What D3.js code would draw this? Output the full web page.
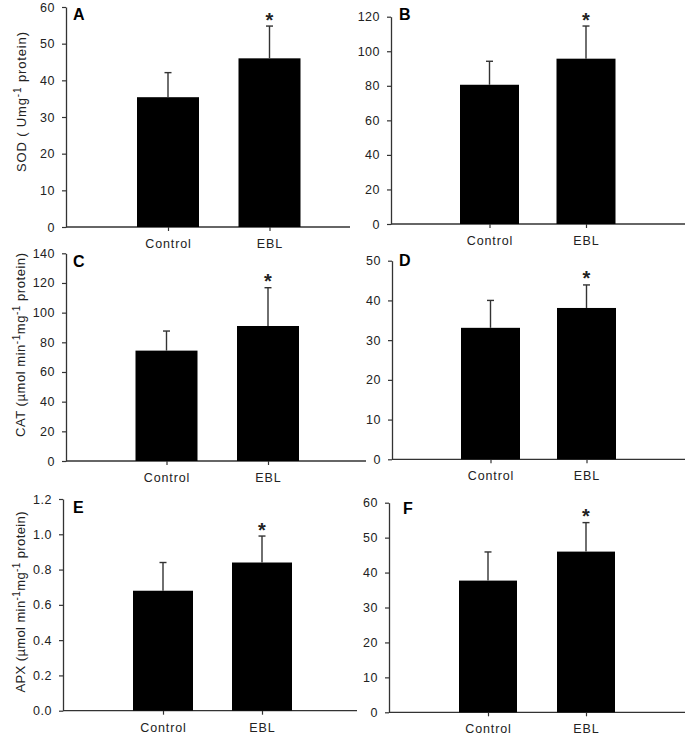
<!DOCTYPE html>
<html><head><meta charset="utf-8">
<script src="https://cdn.jsdelivr.net/npm/d3@7"></script>
<style>
body{margin:0;background:#fff}
text{font-family:Arial,"Liberation Sans",sans-serif}
</style>
</head><body>
<svg id="chart" width="685" height="737"></svg>
<script>
// ---------- data ----------
const categories = ["Control", "EBL"];
const panelLetters = ["A", "B", "C", "D", "E", "F"];

const meanA = [35.4, 46.0], errA = [6.7, 8.8];
const meanB = [80.6, 95.7], errB = [13.6, 18.9];
const meanC = [74.4, 91.0], errC = [13.2, 25.8];
const meanD = [33.1, 38.1], errD = [6.9, 5.8];
const meanE = [0.68, 0.84], errE = [0.16, 0.15];
const meanF = [37.7, 46.0], errF = [8.2, 8.3];

const sigA = ["", "*"], sigB = ["", "*"], sigC = ["", "*"];
const sigD = ["", "*"], sigE = ["", "*"], sigF = ["", "*"];

const ticksA = [0, 10, 20, 30, 40, 50, 60];
const ticksB = [0, 20, 40, 60, 80, 100, 120];
const ticksC = [0, 20, 40, 60, 80, 100, 120, 140];
const ticksD = [0, 10, 20, 30, 40, 50];
const ticksE = [0.0, 0.2, 0.4, 0.6, 0.8, 1.0, 1.2];
const ticksF = [0, 10, 20, 30, 40, 50, 60];

// y-axis titles as [text, isSuperscript] parts
const yLabelA = [["SOD ( Umg", false], ["-1", true], [" protein)", false]];
const yLabelC = [["CAT (\u00B5mol min", false], ["-1", true], ["mg", false], ["-1", true], [" protein)", false]];
const yLabelE = [["APX (\u00B5mol min", false], ["-1", true], ["mg", false], ["-1", true], [" protein)", false]];

// ---------- layout (positions only) ----------
const layout = [
  {x0: 66,  x1: 350, yTop: 7,    yZero: 227,   c: [168, 269.5],   bw: 62, lx: 73,  ly: 20,  fmt: "d",   labX: 26, labY: 102, labLen: 140},
  {x0: 391, x1: 685, yTop: 16.7, yZero: 224,   c: [489.5, 586],   bw: 59, lx: 399, ly: 20,  fmt: "d"},
  {x0: 66,  x1: 366, yTop: 253.3,yZero: 461,   c: [166.5, 268],   bw: 62, lx: 73,  ly: 267, fmt: "d",   labX: 25, labY: 345, labLen: 184},
  {x0: 392, x1: 685, yTop: 260.7,yZero: 459.3, c: [490.5, 586.5], bw: 59, lx: 399, ly: 266, fmt: "d"},
  {x0: 63,  x1: 357, yTop: 499,  yZero: 710.7, c: [163, 262],     bw: 60, lx: 73,  ly: 513, fmt: ".1f", labX: 25, labY: 602, labLen: 181},
  {x0: 389, x1: 685, yTop: 502.7,yZero: 712.3, c: [488, 586],     bw: 58, lx: 403, ly: 514, fmt: "d"}
];

const panels = [
  {mean: meanA, err: errA, sig: sigA, ticks: ticksA, label: yLabelA},
  {mean: meanB, err: errB, sig: sigB, ticks: ticksB, label: null},
  {mean: meanC, err: errC, sig: sigC, ticks: ticksC, label: yLabelC},
  {mean: meanD, err: errD, sig: sigD, ticks: ticksD, label: null},
  {mean: meanE, err: errE, sig: sigE, ticks: ticksE, label: yLabelE},
  {mean: meanF, err: errF, sig: sigF, ticks: ticksF, label: null}
];

const svg = d3.select("#chart");
const axisColor = "#333";

panels.forEach((p, i) => {
  const L = layout[i];
  const y = d3.scaleLinear().domain([0, d3.max(p.ticks)]).range([L.yZero, L.yTop]);
  const x = d3.scalePoint().domain(categories).range(L.c);
  const g = svg.append("g");

  // y axis
  const ya = g.append("g").attr("transform", `translate(${L.x0},0)`)
    .call(d3.axisLeft(y).tickValues(p.ticks).tickFormat(d3.format(L.fmt))
      .tickSize(4).tickSizeOuter(0).tickPadding(7));
  ya.select(".domain").attr("stroke", axisColor).attr("stroke-width", 1.3);
  ya.selectAll(".tick line").attr("stroke", axisColor).attr("stroke-width", 1.2);
  ya.selectAll(".tick text").attr("font-size", 12.5).attr("fill", "#222")
    .attr("font-family", "Arial, 'Liberation Sans', sans-serif").style("letter-spacing", "0.5px");

  // x axis
  const xa = g.append("g").attr("transform", `translate(0,${L.yZero})`)
    .call(d3.axisBottom(x).tickSize(4).tickSizeOuter(0).tickPadding(8));
  xa.select(".domain").remove();
  xa.append("line").attr("x1", L.x0).attr("x2", L.x1).attr("y1", 0).attr("y2", 0)
    .attr("stroke", axisColor).attr("stroke-width", 1.3);
  xa.selectAll(".tick line").attr("stroke", axisColor).attr("stroke-width", 1.2);
  xa.selectAll(".tick text").attr("font-size", 12.5).attr("fill", "#222")
    .attr("font-family", "Arial, 'Liberation Sans', sans-serif").style("letter-spacing", "0.9px");

  const data = categories.map((c, k) => ({c, v: p.mean[k], e: p.err[k], s: p.sig[k]}));

  // bars
  g.selectAll("rect.bar").data(data).join("rect").attr("class", "bar")
    .attr("x", d => x(d.c) - L.bw / 2).attr("width", L.bw)
    .attr("y", d => y(d.v)).attr("height", d => L.yZero - y(d.v))
    .attr("fill", "#000");

  // error bars
  g.selectAll("line.err").data(data).join("line").attr("class", "err")
    .attr("x1", d => x(d.c)).attr("x2", d => x(d.c))
    .attr("y1", d => y(d.v)).attr("y2", d => y(d.v + d.e))
    .attr("stroke", "#333").attr("stroke-width", 1.4);
  g.selectAll("line.cap").data(data).join("line").attr("class", "cap")
    .attr("x1", d => x(d.c) - 3.5).attr("x2", d => x(d.c) + 3.5)
    .attr("y1", d => y(d.v + d.e)).attr("y2", d => y(d.v + d.e))
    .attr("stroke", "#333").attr("stroke-width", 1.4);

  // significance asterisks
  g.selectAll("text.sig").data(data.filter(d => d.s)).join("text").attr("class", "sig")
    .attr("x", d => x(d.c)).attr("y", d => y(d.v + d.e) + 0.5)
    .attr("text-anchor", "middle").attr("font-size", 20).attr("font-weight", "bold")
    .attr("fill", "#222").text(d => d.s);

  // panel letter
  g.append("text").attr("x", L.lx).attr("y", L.ly).attr("font-size", 16)
    .attr("font-weight", "bold").attr("fill", "#000").text(panelLetters[i]);

  // y title
  if (p.label) {
    const t = g.append("text")
      .attr("transform", `translate(${L.labX},${L.labY}) rotate(-90)`)
      .attr("text-anchor", "middle").attr("font-size", 13).attr("fill", "#222")
      .attr("textLength", L.labLen).attr("lengthAdjust", "spacing");
    let raised = false;
    p.label.forEach(([s, sup]) => {
      const ts = t.append("tspan").text(s);
      if (sup && !raised) { ts.attr("dy", -5).attr("font-size", 10); raised = true; }
      else if (!sup && raised) { ts.attr("dy", 5); raised = false; }
      else if (sup) ts.attr("font-size", 10);
    });
  }
});
</script>
</body></html>
